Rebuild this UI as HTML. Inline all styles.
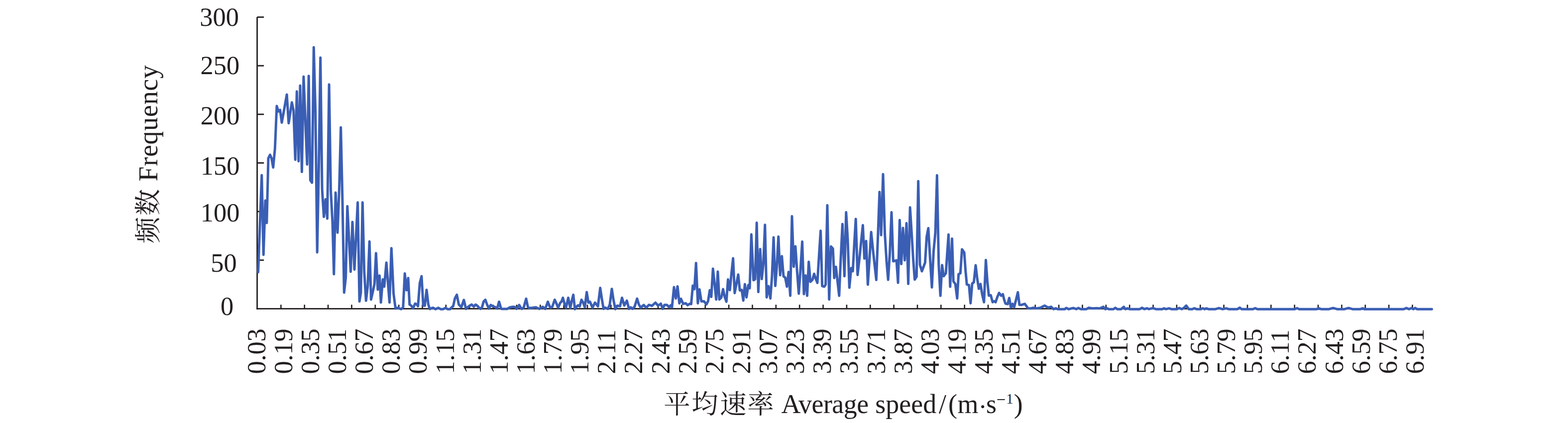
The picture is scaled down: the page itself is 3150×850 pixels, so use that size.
<!DOCTYPE html>
<html><head><meta charset="utf-8"><title>chart</title>
<style>html,body{margin:0;padding:0;background:#fff}svg{display:block}text{font-family:"Liberation Serif","Noto Serif CJK SC",serif;fill:#231f20}</style></head>
<body>
<svg width="3150" height="850" viewBox="0 0 3150 850">
<rect width="3150" height="850" fill="#fff"/>
<g stroke="#231f20" stroke-width="2.8" fill="none">
<path d="M516.6 34.2 V621.8"/>
<path d="M515.2 620.4 H2878"/>
<path d="M516.6 34.40 H530.2"/>
<path d="M516.6 132.07 H530.2"/>
<path d="M516.6 229.74 H530.2"/>
<path d="M516.6 327.41 H530.2"/>
<path d="M516.6 425.08 H530.2"/>
<path d="M516.6 522.75 H530.2"/>
</g>
<g stroke="#231f20" stroke-width="2.6" fill="none">
<path d="M564.40 612.3 V620.4"/>
<path d="M611.75 612.3 V620.4"/>
<path d="M659.11 612.3 V620.4"/>
<path d="M706.46 612.3 V620.4"/>
<path d="M753.82 612.3 V620.4"/>
<path d="M801.18 612.3 V620.4"/>
<path d="M848.53 612.3 V620.4"/>
<path d="M895.89 612.3 V620.4"/>
<path d="M943.24 612.3 V620.4"/>
<path d="M990.60 612.3 V620.4"/>
<path d="M1037.96 612.3 V620.4"/>
<path d="M1085.31 612.3 V620.4"/>
<path d="M1132.67 612.3 V620.4"/>
<path d="M1180.02 612.3 V620.4"/>
<path d="M1227.38 612.3 V620.4"/>
<path d="M1274.74 612.3 V620.4"/>
<path d="M1322.09 612.3 V620.4"/>
<path d="M1369.45 612.3 V620.4"/>
<path d="M1416.80 612.3 V620.4"/>
<path d="M1464.16 612.3 V620.4"/>
<path d="M1511.52 612.3 V620.4"/>
<path d="M1558.87 612.3 V620.4"/>
<path d="M1606.23 612.3 V620.4"/>
<path d="M1653.58 612.3 V620.4"/>
<path d="M1700.94 612.3 V620.4"/>
<path d="M1748.30 612.3 V620.4"/>
<path d="M1795.65 612.3 V620.4"/>
<path d="M1843.01 612.3 V620.4"/>
<path d="M1890.36 612.3 V620.4"/>
<path d="M1937.72 612.3 V620.4"/>
<path d="M1985.08 612.3 V620.4"/>
<path d="M2032.43 612.3 V620.4"/>
<path d="M2079.79 612.3 V620.4"/>
<path d="M2127.14 612.3 V620.4"/>
<path d="M2174.50 612.3 V620.4"/>
<path d="M2221.86 612.3 V620.4"/>
<path d="M2269.21 612.3 V620.4"/>
<path d="M2316.57 612.3 V620.4"/>
<path d="M2363.92 612.3 V620.4"/>
<path d="M2411.28 612.3 V620.4"/>
<path d="M2458.64 612.3 V620.4"/>
<path d="M2505.99 612.3 V620.4"/>
<path d="M2553.35 612.3 V620.4"/>
<path d="M2600.70 612.3 V620.4"/>
<path d="M2648.06 612.3 V620.4"/>
<path d="M2695.42 612.3 V620.4"/>
<path d="M2742.77 612.3 V620.4"/>
<path d="M2790.13 612.3 V620.4"/>
<path d="M2837.48 612.3 V620.4"/>
</g>
<path d="M518.6 547.0 L525.8 352.0 L529.3 512.0 L533.0 403.0 L535.9 448.0 L539.0 318.0 L542.5 311.0 L545.5 318.0 L548.8 336.5 L552.4 298.0 L556.0 213.0 L559.3 224.0 L562.7 221.0 L566.1 246.3 L576.2 190.0 L579.9 247.5 L586.3 205.8 L589.7 222.0 L593.2 321.0 L596.3 183.7 L599.8 324.0 L603.0 172.0 L606.4 345.5 L609.9 154.0 L617.0 330.5 L620.2 152.5 L623.4 362.0 L626.8 367.0 L630.3 95.0 L633.7 225.0 L637.2 507.0 L640.6 328.0 L643.7 115.7 L647.1 380.0 L650.6 435.8 L654.1 400.5 L657.5 439.3 L661.1 169.8 L664.5 383.0 L667.9 445.0 L670.8 551.0 L674.2 387.0 L678.1 467.5 L681.5 378.0 L684.7 256.0 L688.0 405.0 L691.3 588.0 L694.6 558.0 L697.8 414.5 L704.5 546.0 L708.0 446.0 L712.0 541.6 L718.6 406.7 L722.1 605.8 L724.9 588.0 L728.3 406.7 L731.7 545.0 L735.3 604.3 L738.8 574.0 L742.2 485.2 L745.4 602.0 L748.8 587.0 L752.2 571.0 L755.4 508.8 L758.9 582.0 L762.4 553.7 L765.2 607.8 L769.0 561.4 L771.9 576.0 L776.2 527.8 L782.5 607.8 L786.3 498.7 L790.6 590.0 L794.6 620.0 L799.4 618.5 L802.5 620.0 L805.9 621.2 L809.8 617.5 L813.2 549.5 L816.7 583.2 L820.0 558.8 L822.8 612.0 L826.0 614.0 L829.6 619.7 L834.0 610.0 L837.0 611.5 L839.7 615.2 L843.3 569.0 L846.9 555.0 L850.3 614.2 L853.4 614.2 L857.0 582.6 L860.5 612.0 L863.5 621.0 L866.5 619.5 L870.0 618.5 L875.0 621.2 L880.7 618.5 L885.0 621.2 L890.0 621.2 L895.0 618.8 L899.5 621.2 L904.0 621.2 L908.0 617.0 L910.5 615.0 L913.8 600.0 L917.7 592.3 L921.7 612.0 L926.8 617.2 L931.8 602.7 L936.1 620.7 L940.0 617.0 L944.0 614.0 L947.6 612.0 L951.9 616.2 L955.5 612.0 L959.0 614.5 L962.0 618.0 L965.6 620.7 L968.5 617.0 L971.5 606.0 L975.0 602.4 L978.5 612.0 L982.2 620.2 L985.8 612.8 L989.0 615.0 L992.0 616.0 L995.5 617.5 L998.7 620.2 L1002.6 606.3 L1006.0 618.0 L1007.3 620.7 L1018.8 620.7 L1024.6 617.5 L1031.0 616.5 L1034.5 617.0 L1037.6 620.7 L1040.0 618.0 L1043.0 612.8 L1046.0 618.0 L1048.3 620.7 L1052.0 618.0 L1057.0 600.2 L1060.5 617.0 L1062.9 619.0 L1069.0 618.5 L1076.5 617.5 L1083.7 620.7 L1090.2 616.5 L1095.3 620.7 L1100.6 606.3 L1104.5 616.5 L1106.0 618.2 L1109.5 616.5 L1114.4 602.3 L1117.5 609.0 L1121.2 618.2 L1125.5 608.5 L1128.0 606.0 L1130.8 598.4 L1134.0 610.0 L1137.0 618.2 L1141.6 598.4 L1145.6 618.9 L1148.5 605.0 L1151.7 592.3 L1155.0 621.2 L1158.5 616.0 L1161.5 613.5 L1164.6 615.7 L1168.2 602.4 L1171.5 608.0 L1174.8 617.2 L1178.7 586.9 L1182.0 608.2 L1185.2 606.3 L1188.0 613.0 L1190.2 618.2 L1195.3 608.2 L1198.5 612.0 L1201.2 615.6 L1205.8 578.5 L1209.0 600.0 L1212.5 620.7 L1215.4 618.0 L1221.2 620.7 L1225.0 612.0 L1229.1 580.4 L1232.5 603.0 L1236.3 621.2 L1240.0 614.2 L1245.6 615.4 L1249.6 598.4 L1254.2 613.9 L1259.3 604.1 L1263.6 620.7 L1267.2 617.5 L1270.8 620.7 L1275.0 616.0 L1279.9 600.1 L1283.5 612.0 L1287.3 618.2 L1293.1 612.8 L1298.1 618.2 L1303.9 612.5 L1309.6 614.6 L1316.8 608.2 L1321.9 614.2 L1327.6 610.2 L1331.2 620.7 L1334.8 612.8 L1339.9 612.8 L1344.2 617.2 L1347.5 613.5 L1349.9 617.7 L1354.0 577.1 L1357.7 599.7 L1361.1 575.4 L1364.8 609.4 L1368.0 600.4 L1372.4 610.5 L1377.8 609.5 L1381.4 613.3 L1385.3 610.5 L1388.5 611.0 L1391.8 573.9 L1395.0 581.0 L1398.3 528.6 L1401.9 609.4 L1405.2 581.4 L1409.0 605.6 L1414.4 605.6 L1419.2 611.6 L1422.5 605.0 L1425.9 583.2 L1428.9 596.5 L1432.3 540.0 L1435.5 570.0 L1438.8 601.8 L1442.0 545.8 L1445.1 601.8 L1449.0 598.0 L1452.6 581.0 L1456.0 597.0 L1459.3 606.2 L1462.5 561.6 L1466.2 583.0 L1469.4 550.0 L1472.7 518.9 L1475.9 588.9 L1479.5 570.0 L1483.0 551.7 L1486.3 583.5 L1490.0 582.5 L1493.2 604.0 L1496.4 571.1 L1499.7 597.5 L1503.3 572.8 L1506.1 579.2 L1509.4 471.1 L1513.7 563.0 L1517.0 561.0 L1520.2 447.6 L1523.4 586.8 L1527.1 500.5 L1530.3 560.8 L1533.5 530.0 L1536.8 451.7 L1540.2 597.5 L1543.9 575.0 L1547.6 599.7 L1550.9 555.0 L1554.1 477.1 L1557.5 574.5 L1560.6 535.0 L1563.8 475.4 L1567.2 552.9 L1570.7 514.8 L1574.0 555.0 L1577.5 558.0 L1580.9 576.0 L1584.2 546.5 L1587.6 594.3 L1591.0 434.4 L1594.5 536.0 L1597.9 494.9 L1601.3 545.0 L1604.7 590.0 L1608.2 540.0 L1611.6 485.6 L1615.0 591.0 L1618.3 553.4 L1621.5 594.3 L1624.7 526.0 L1628.0 566.3 L1632.3 562.0 L1635.5 550.2 L1638.8 560.0 L1642.0 568.4 L1645.3 515.0 L1648.6 463.8 L1651.7 574.9 L1656.0 576.0 L1658.6 572.0 L1662.0 412.4 L1665.7 601.8 L1669.3 495.2 L1673.3 499.6 L1675.9 558.7 L1679.3 536.1 L1682.5 565.0 L1685.8 594.3 L1689.0 520.0 L1692.4 450.2 L1696.4 555.0 L1699.8 426.6 L1703.0 480.0 L1706.3 578.1 L1710.0 538.7 L1713.2 545.0 L1716.2 490.0 L1719.2 440.0 L1722.8 552.5 L1726.5 520.0 L1730.0 485.0 L1733.4 452.5 L1736.5 519.6 L1740.0 484.3 L1743.4 572.0 L1746.8 520.0 L1750.1 466.3 L1753.5 500.0 L1757.0 532.0 L1760.4 562.4 L1763.7 474.0 L1766.9 385.7 L1770.1 472.4 L1774.0 349.9 L1777.6 470.0 L1781.0 525.0 L1784.2 562.2 L1787.6 508.0 L1791.0 426.5 L1794.4 525.0 L1798.0 524.0 L1801.0 523.0 L1804.1 568.3 L1807.4 442.2 L1810.6 530.6 L1814.0 458.0 L1817.5 523.0 L1821.1 448.5 L1824.6 570.5 L1828.2 416.8 L1831.5 470.0 L1834.5 520.0 L1837.6 561.8 L1841.3 556.0 L1844.7 364.1 L1848.1 532.0 L1852.0 545.0 L1855.0 537.0 L1858.4 528.0 L1861.6 476.0 L1864.9 458.5 L1868.5 520.0 L1872.1 577.5 L1875.5 505.0 L1879.0 468.0 L1882.4 352.3 L1885.8 531.0 L1889.2 594.3 L1892.6 532.8 L1895.8 555.0 L1900.2 549.0 L1902.8 510.0 L1905.5 471.3 L1908.8 576.2 L1912.6 479.5 L1915.3 565.2 L1919.2 570.6 L1922.9 599.7 L1925.7 551.2 L1929.3 549.0 L1932.6 501.0 L1937.1 507.5 L1939.8 545.0 L1942.3 571.7 L1946.6 572.8 L1949.8 609.4 L1953.1 569.6 L1956.3 567.4 L1960.0 532.9 L1963.2 560.0 L1966.4 580.3 L1969.7 570.7 L1973.2 592.0 L1976.8 607.2 L1980.5 522.5 L1983.5 565.0 L1986.5 594.0 L1990.4 593.3 L1994.1 607.2 L1997.3 605.2 L2000.1 607.2 L2003.5 597.0 L2007.0 588.6 L2011.3 594.3 L2014.6 591.2 L2017.5 603.0 L2019.9 610.0 L2024.3 611.0 L2027.5 598.7 L2030.7 617.5 L2034.0 610.6 L2037.2 617.5 L2041.0 603.0 L2044.8 587.3 L2048.0 612.6 L2052.3 612.7 L2055.5 611.5 L2058.8 610.6 L2062.0 615.0 L2065.3 619.6 L2070.7 619.8 L2076.0 618.5 L2082.5 619.6 L2090.0 618.5 L2094.0 616.5 L2098.6 614.1 L2105.6 618.1 L2111.8 616.4 L2116.5 621.2 L2121.0 619.6 L2125.0 621.2 L2139.0 621.2 L2142.1 618.8 L2146.8 621.2 L2156.0 618.9 L2162.3 621.2 L2166.2 618.9 L2171.6 621.2 L2182.5 621.2 L2187.1 618.5 L2195.0 619.7 L2202.7 619.3 L2209.0 619.7 L2216.6 616.6 L2220.5 621.2 L2224.4 619.6 L2227.5 621.2 L2236.8 621.2 L2240.7 618.5 L2244.6 621.2 L2252.4 621.2 L2257.5 616.6 L2260.9 621.2 L2264.8 619.6 L2269.4 621.2 L2289.6 621.2 L2294.3 618.5 L2298.9 621.2 L2304.4 619.5 L2308.3 621.2 L2316.0 619.1 L2322.2 621.2 L2334.7 621.2 L2338.5 619.6 L2342.4 621.2 L2348.6 619.6 L2353.3 621.2 L2364.2 621.2 L2368.8 618.9 L2374.3 621.2 L2378.5 618.6 L2383.1 614.1 L2388.2 621.2 L2395.2 621.2 L2399.1 619.4 L2403.8 621.2 L2412.3 621.2 L2416.2 619.4 L2420.1 621.2 L2423.2 619.6 L2427.8 621.2 L2441.8 621.2 L2448.8 619.1 L2455.8 621.2 L2463.5 619.6 L2468.2 621.2 L2486.0 621.2 L2490.6 618.2 L2494.5 621.2 L2517.0 621.2 L2521.6 619.2 L2526.0 621.2 L2601.0 621.2 L2605.6 619.2 L2610.0 621.2 L2645.0 621.2 L2649.6 619.5 L2654.0 621.2 L2670.0 621.2 L2678.1 618.9 L2686.0 621.2 L2701.0 621.2 L2709.1 618.9 L2717.0 621.2 L2733.0 621.2 L2737.6 619.5 L2741.0 621.2 L2820.0 621.2 L2825.6 618.9 L2830.5 621.2 L2835.4 619.1 L2839.5 621.2 L2842.9 618.9 L2847.0 621.2 L2876.4 621.2" fill="none" stroke="#3a5eb4" stroke-width="5.0" stroke-linejoin="round" stroke-linecap="round"/>
<g font-size="52.5" text-anchor="end">
<text x="480.1" y="51.85">300</text>
<text x="481.2" y="148.8">250</text>
<text x="481.4" y="250.3">200</text>
<text x="481.4" y="351.2">150</text>
<text x="481.5" y="445.4">100</text>
<text x="475.7" y="546.1">50</text>
<text x="469.2" y="632.7">0</text>
</g>
<g font-size="52.5" letter-spacing="-0.15">
<text transform="translate(532.7 751.6) rotate(-90)">0.03</text>
<text transform="translate(586.8 751.6) rotate(-90)">0.19</text>
<text transform="translate(640.9 751.6) rotate(-90)">0.35</text>
<text transform="translate(695.1 751.6) rotate(-90)">0.51</text>
<text transform="translate(749.2 751.6) rotate(-90)">0.67</text>
<text transform="translate(803.3 751.6) rotate(-90)">0.83</text>
<text transform="translate(857.4 751.6) rotate(-90)">0.99</text>
<text transform="translate(911.5 751.6) rotate(-90)">1.15</text>
<text transform="translate(965.7 751.6) rotate(-90)">1.31</text>
<text transform="translate(1019.8 751.6) rotate(-90)">1.47</text>
<text transform="translate(1073.9 751.6) rotate(-90)">1.63</text>
<text transform="translate(1128.0 751.6) rotate(-90)">1.79</text>
<text transform="translate(1182.1 751.6) rotate(-90)">1.95</text>
<text transform="translate(1236.3 751.6) rotate(-90)">2.11</text>
<text transform="translate(1290.4 751.6) rotate(-90)">2.27</text>
<text transform="translate(1344.5 751.6) rotate(-90)">2.43</text>
<text transform="translate(1398.6 751.6) rotate(-90)">2.59</text>
<text transform="translate(1452.7 751.6) rotate(-90)">2.75</text>
<text transform="translate(1506.9 751.6) rotate(-90)">2.91</text>
<text transform="translate(1561.0 751.6) rotate(-90)">3.07</text>
<text transform="translate(1615.1 751.6) rotate(-90)">3.23</text>
<text transform="translate(1669.2 751.6) rotate(-90)">3.39</text>
<text transform="translate(1723.3 751.6) rotate(-90)">3.55</text>
<text transform="translate(1777.5 751.6) rotate(-90)">3.71</text>
<text transform="translate(1831.6 751.6) rotate(-90)">3.87</text>
<text transform="translate(1885.7 751.6) rotate(-90)">4.03</text>
<text transform="translate(1939.8 751.6) rotate(-90)">4.19</text>
<text transform="translate(1993.9 751.6) rotate(-90)">4.35</text>
<text transform="translate(2048.1 751.6) rotate(-90)">4.51</text>
<text transform="translate(2102.2 751.6) rotate(-90)">4.67</text>
<text transform="translate(2156.3 751.6) rotate(-90)">4.83</text>
<text transform="translate(2210.4 751.6) rotate(-90)">4.99</text>
<text transform="translate(2264.5 751.6) rotate(-90)">5.15</text>
<text transform="translate(2318.7 751.6) rotate(-90)">5.31</text>
<text transform="translate(2372.8 751.6) rotate(-90)">5.47</text>
<text transform="translate(2426.9 751.6) rotate(-90)">5.63</text>
<text transform="translate(2481.0 751.6) rotate(-90)">5.79</text>
<text transform="translate(2535.1 751.6) rotate(-90)">5.95</text>
<text transform="translate(2589.3 751.6) rotate(-90)">6.11</text>
<text transform="translate(2643.4 751.6) rotate(-90)">6.27</text>
<text transform="translate(2697.5 751.6) rotate(-90)">6.43</text>
<text transform="translate(2751.6 751.6) rotate(-90)">6.59</text>
<text transform="translate(2805.7 751.6) rotate(-90)">6.75</text>
<text transform="translate(2859.9 751.6) rotate(-90)">6.91</text>
</g>
<text font-size="53.5" text-anchor="middle" transform="translate(316.0 462.5) rotate(-90)">频</text>
<text font-size="53.5" text-anchor="middle" transform="translate(316.0 406.5) rotate(-90)">数</text>
<text font-size="54" letter-spacing="0.7" transform="translate(316.3 364.5) rotate(-90)">Frequency</text>
<g font-size="53.5" text-anchor="middle">
<text x="1360.0" y="831.2">平</text>
<text x="1416.0" y="831.2">均</text>
<text x="1472.7" y="831.2">速</text>
<text x="1528.0" y="831.2">率</text>
</g>
<g font-size="54">
<text x="1569.6" y="829.8" letter-spacing="-0.55">Average</text>
<text x="1758.3" y="829.8">speed</text>
<text x="1885.9" y="829.8">/</text>
<text x="1905.0" y="829.8">(</text>
<text x="1923.5" y="829.8">m</text>
<text x="1981.0" y="829.8">s</text>
<text x="2036.8" y="829.8">)</text>
<text transform="translate(2021.3 810.7) scale(0.537)">1</text>
</g>
<circle cx="1974.2" cy="817.3" r="3" fill="#231f20"/>
<path d="M2003.5 803 H2018.7" stroke="#231f20" stroke-width="1.9"/>
</svg></body></html>
